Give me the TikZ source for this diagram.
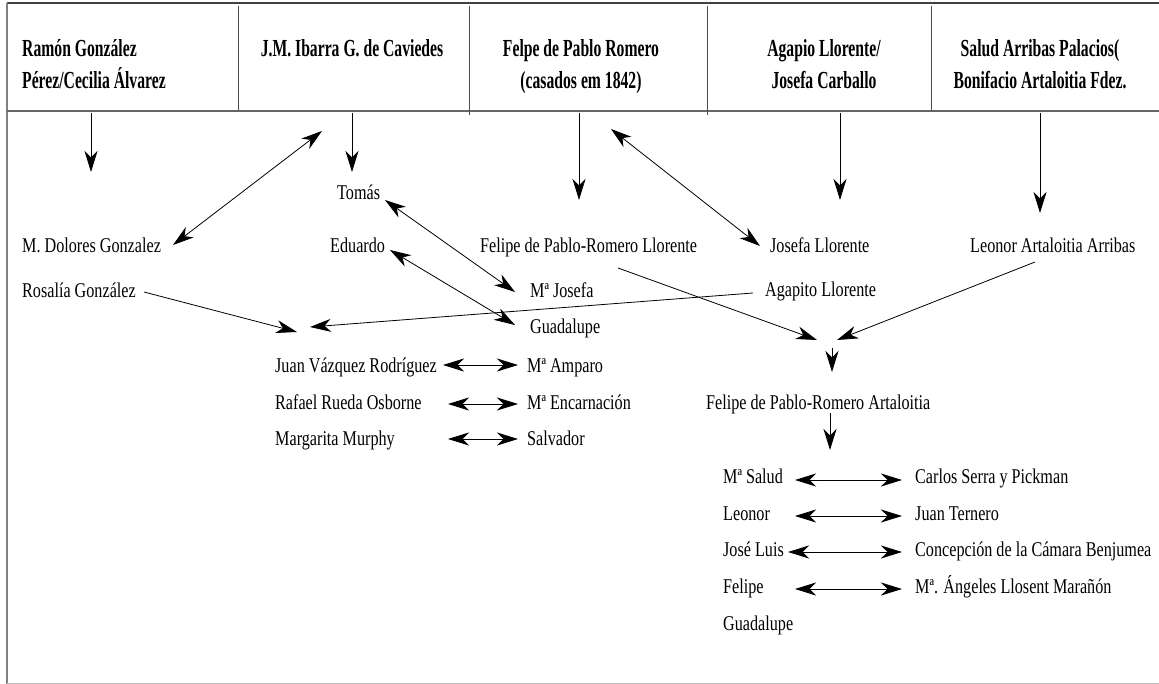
\documentclass[tikz,border=0pt]{standalone}
\usepackage{fontspec}
\setmainfont{Liberation Serif}[FakeStretch=0.77]
\newfontfamily\hdfont{Liberation Serif}[FakeStretch=0.64]
\usetikzlibrary{arrows.meta}
\tikzset{
  txt/.style={font=\fontsize{21}{25}\selectfont, inner sep=0pt, anchor=base west},
  hd/.style={font=\hdfont\bfseries\fontsize{24.5}{32}\selectfont, inner sep=0pt, anchor=base, align=center},
  tip/.tip={Stealth[length=21pt,width=13pt,inset=6.5pt]},
  arr/.style={-tip, line width=0.8pt},
  dbl/.style={tip-tip, line width=0.8pt},
  frameline/.style={line width=1.3pt, draw=black!75},
  sep/.style={line width=1pt, draw=black!70}
}
\begin{document}
\begin{tikzpicture}[x=1pt,y=-1pt]
\useasboundingbox (0,0) rectangle (1159,684);
\fill[white] (0,0) rectangle (1159,684);
% frame
\draw[frameline] (7,3) -- (1159,3);
\draw[line width=1.5pt, draw=black!50] (7,3) -- (7,684);
\draw[line width=1.3pt, draw=black!60] (7,111) -- (1159,111);
\draw[line width=1pt, draw=black!25] (7,683) -- (1159,683);
\draw[sep] (238,6) -- (238,110);
\draw[sep] (469,6) -- (469,115);
\draw[sep] (707,6) -- (707,115);
\draw[sep] (931,6) -- (931,110);
% header (base anchor = baseline of the last line)
\node[hd, anchor=base west, align=left] (h1) at (22,89) {Ramón González\\Pérez/Cecilia Álvarez};
\node[hd] (h2) at (352,57) {J.M. Ibarra G. de Caviedes};
\node[hd] (h3) at (581,89) {Felpe de Pablo Romero\\(casados em 1842)};
\node[hd] (h4) at (824,89) {Agapio Llorente/\\Josefa Carballo};
\node[hd] (h5) at (1040,89) {Salud Arribas Palacios(\\Bonifacio Artaloitia Fdez.};
% people
\node[txt] (tomas) at (337,200) {Tomás};
\node[txt] (dolores) at (22,253) {M. Dolores Gonzalez};
\node[txt] (eduardo) at (330,253) {Eduardo};
\node[txt] (felipeL) at (480,253) {Felipe de Pablo-Romero Llorente};
\node[txt] (josefaL) at (770,253) {Josefa Llorente};
\node[txt] (leonorA) at (970,253) {Leonor Artaloitia Arribas};
\node[txt] (rosalia) at (22,298) {Rosalía González};
\node[txt] (mjosefa) at (530,298) {Mª Josefa};
\node[txt] (agapito) at (765,297) {Agapito Llorente};
\node[txt] (guad1) at (530,334) {Guadalupe};
\node[txt] (juan) at (275,373) {Juan Vázquez Rodríguez};
\node[txt] (amparo) at (527,373) {Mª Amparo};
\node[txt] (rafael) at (275,409) {Rafael Rueda Osborne};
\node[txt] (encarn) at (527,409) {Mª Encarnación};
\node[txt] (margarita) at (275,445) {Margarita Murphy};
\node[txt] (salvador) at (527,445) {Salvador};
\node[txt] (felipeA) at (706,409) {Felipe de Pablo-Romero Artaloitia};
\node[txt] (msalud) at (723,483) {Mª Salud};
\node[txt] (leonor) at (723,520) {Leonor};
\node[txt] (joseluis) at (723,556) {José Luis};
\node[txt] (felipe) at (723,593) {Felipe};
\node[txt] (guad2) at (723,630) {Guadalupe};
\node[txt] (carlos) at (915,483) {Carlos Serra y Pickman};
\node[txt] (ternero) at (915,520) {Juan Ternero};
\node[txt] (concep) at (915,556) {Concepción de la Cámara Benjumea};
\node[txt] (angeles) at (915,593) {Mª. Ángeles Llosent Marañón};
% connector ends
\coordinate (c1s) at (91,113);   \coordinate (c1e) at (91,172);
\coordinate (c2s) at (352,113);  \coordinate (c2e) at (352,172);
\coordinate (c3s) at (322,131);  \coordinate (c3e) at (173,245);
\coordinate (c4s) at (579,113);  \coordinate (c4e) at (579,200);
\coordinate (c5s) at (611,129);  \coordinate (c5e) at (760,246);
\coordinate (c6s) at (840,113);  \coordinate (c6e) at (840,200);
\coordinate (c7s) at (1040,113); \coordinate (c7e) at (1040,213);
\coordinate (c8s) at (385,200);  \coordinate (c8e) at (515,292);
\coordinate (c9s) at (390,250);  \coordinate (c9e) at (515,325);
\coordinate (c10s) at (144,292); \coordinate (c10e) at (297,332);
\coordinate (c11s) at (753,293); \coordinate (c11e) at (310,327);
\coordinate (c12s) at (618,268); \coordinate (c12e) at (817,340);
\coordinate (c13s) at (1035,262);\coordinate (c13e) at (837,340);
\coordinate (m1) at (832,348);   \coordinate (m2) at (832,372);
\coordinate (m3) at (830,413);   \coordinate (m4) at (830,450);
\coordinate (r1a) at (443,365);  \coordinate (r1b) at (518,365);
\coordinate (r2a) at (448,404);  \coordinate (r2b) at (518,404);
\coordinate (r3a) at (448,439);  \coordinate (r3b) at (518,439);
\coordinate (b1a) at (795,480);  \coordinate (b1b) at (902,480);
\coordinate (b2a) at (795,516);  \coordinate (b2b) at (902,516);
\coordinate (b3a) at (788,552);  \coordinate (b3b) at (902,552);
\coordinate (b4a) at (795,589);  \coordinate (b4b) at (902,589);
% connectors
\draw[arr] (c1s) -- (c1e);
\draw[arr] (c2s) -- (c2e);
\draw[dbl] (c3s) -- (c3e);
\draw[arr] (c4s) -- (c4e);
\draw[dbl] (c5s) -- (c5e);
\draw[arr] (c6s) -- (c6e);
\draw[arr] (c7s) -- (c7e);
\draw[dbl] (c8s) -- (c8e);
\draw[dbl] (c9s) -- (c9e);
\draw[arr] (c10s) -- (c10e);
\draw[arr] (c11s) -- (c11e);
\draw[arr] (c12s) -- (c12e);
\draw[arr] (c13s) -- (c13e);
\draw[arr] (m1) -- (m2);
\draw[arr] (m3) -- (m4);
\draw[dbl] (r1a) -- (r1b);
\draw[dbl] (r2a) -- (r2b);
\draw[dbl] (r3a) -- (r3b);
\draw[dbl] (b1a) -- (b1b);
\draw[dbl] (b2a) -- (b2b);
\draw[dbl] (b3a) -- (b3b);
\draw[dbl] (b4a) -- (b4b);
\end{tikzpicture}
\end{document}
